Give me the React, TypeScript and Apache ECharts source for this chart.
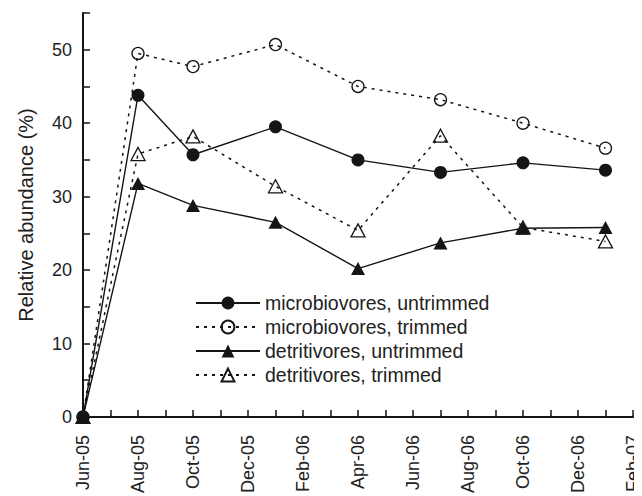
import React, { useEffect, useRef } from "react";
import * as echarts from "echarts";

// Month index counted from Jun-05 (0) to Feb-07 (20)
const sampleMonths = [0, 2, 4, 7, 10, 13, 16, 19];
const tickLabels = [
  "Jun-05", "Aug-05", "Oct-05", "Dec-05", "Feb-06", "Apr-06",
  "Jun-06", "Aug-06", "Oct-06", "Dec-06", "Feb-07",
];

const microUntrimmed = [0, 43.8, 35.7, 39.5, 35.0, 33.3, 34.6, 33.6];
const microTrimmed = [0, 49.5, 47.7, 50.7, 45.0, 43.2, 40.0, 36.6];
const detritUntrimmed = [0, 31.8, 28.8, 26.5, 20.2, 23.7, 25.7, 25.8];
const detritTrimmed = [0, 35.8, 38.2, 31.4, 25.4, 38.3, 25.8, 23.9];

const seriesNames = [
  "microbiovores, untrimmed",
  "microbiovores, trimmed",
  "detritivores, untrimmed",
  "detritivores, trimmed",
];

const INK = "#151515";
const TEXT = "#222";
const FONT = "'Liberation Sans', Arial, Helvetica, sans-serif";

const pairs = (vals: number[]) => sampleMonths.map((m, i) => [m, vals[i]]);

export default function App() {
  const ref = useRef<HTMLDivElement>(null);

  useEffect(() => {
    if (!ref.current) return;
    const chart = echarts.init(ref.current, undefined, { renderer: "svg" });

    const solid = { color: INK, width: 1.4, type: "solid" as const };
    const dotted = { color: INK, width: 1.5, type: [3, 5] as any };
    // hollow markers: the dotted line shows through them
    const hollow = { color: "rgba(255,255,255,0)", borderColor: INK, borderWidth: 1.3 };
    const filled = { color: INK, borderColor: INK, borderWidth: 0 };

    chart.setOption({
      animation: false,
      backgroundColor: "#fff",
      textStyle: { fontFamily: FONT, color: TEXT },
      grid: { left: 72, right: 5, top: 5, bottom: 76, containLabel: false },
      legend: {
        orient: "vertical",
        left: 182,
        top: 280,
        itemWidth: 64,
        itemHeight: 16,
        itemGap: 4,
        textStyle: { fontFamily: FONT, fontSize: 19.5, color: TEXT },
        data: seriesNames,
      },
      xAxis: {
        type: "value",
        min: 0,
        max: 20,
        interval: 1,
        axisLine: { lineStyle: { color: INK, width: 2 } },
        axisTick: { inside: true, length: 7, lineStyle: { color: INK, width: 1.5 } },
        splitLine: { show: false },
        axisLabel: {
          rotate: 90,
          margin: 18,
          fontSize: 18,
          fontFamily: FONT,
          color: TEXT,
          showMaxLabel: true,
          showMinLabel: true,
          formatter: (v: number) => (v % 2 === 0 ? tickLabels[v / 2] : ""),
        },
      },
      yAxis: {
        type: "value",
        min: 0,
        max: 55,
        interval: 5,
        name: "Relative abundance (%)",
        nameLocation: "middle",
        nameGap: 47,
        nameTextStyle: { fontSize: 20, fontFamily: FONT, color: TEXT },
        axisLine: { show: true, lineStyle: { color: INK, width: 2 } },
        axisTick: { show: true, inside: true, length: 7, lineStyle: { color: INK, width: 1.5 } },
        splitLine: { show: false },
        axisLabel: {
          margin: 11,
          fontSize: 18,
          fontFamily: FONT,
          color: TEXT,
          formatter: (v: number) => (v % 10 === 0 ? String(v) : ""),
        },
      },
      series: [
        {
          name: seriesNames[0],
          type: "line",
          data: pairs(microUntrimmed),
          symbol: "circle",
          symbolSize: 13,
          clip: false,
          lineStyle: solid,
          itemStyle: filled,
        },
        {
          name: seriesNames[1],
          type: "line",
          data: pairs(microTrimmed),
          symbol: "circle",
          symbolSize: 12,
          clip: false,
          lineStyle: dotted,
          itemStyle: hollow,
        },
        {
          name: seriesNames[2],
          type: "line",
          data: pairs(detritUntrimmed),
          symbol: "triangle",
          symbolSize: [14, 13],
          clip: false,
          lineStyle: solid,
          itemStyle: filled,
        },
        {
          name: seriesNames[3],
          type: "line",
          data: pairs(detritTrimmed),
          symbol: "triangle",
          symbolSize: [14, 13],
          clip: false,
          lineStyle: dotted,
          itemStyle: hollow,
        },
      ],
    });

    return () => chart.dispose();
  }, []);

  return <div ref={ref} style={{ width: 634, height: 488 }} />;
}
